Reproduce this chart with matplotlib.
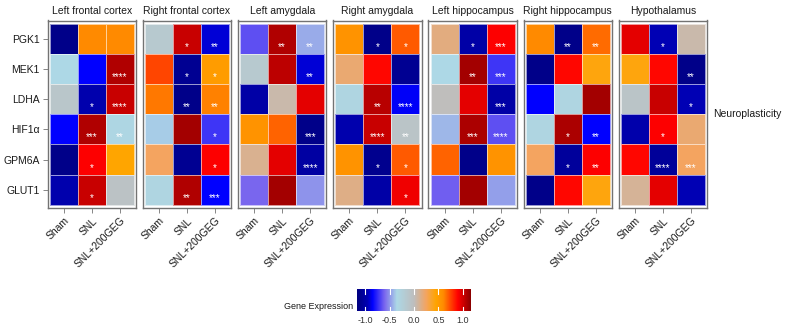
import numpy as np
import matplotlib
matplotlib.use("Agg")
import matplotlib.pyplot as plt
from matplotlib.colors import LinearSegmentedColormap, Normalize

plt.rcParams['font.family'] = ['Liberation Sans', 'DejaVu Sans']

genes = ["PGK1", "MEK1", "LDHA", "HIF1\u03b1", "GPM6A", "GLUT1"]
groups = ["Sham", "SNL", "SNL+200GEG"]
regions = ["Left frontal cortex", "Right frontal cortex", "Left amygdala",
           "Right amygdala", "Left hippocampus", "Right hippocampus", "Hypothalamus"]
side_label = "Neuroplasticity"

# values: rows = genes, columns = groups (Sham, SNL, SNL+200GEG)
left_frontal = [[-1.12, 0.60, 0.60],
                [-0.35, -0.85, 1.07],
                [-0.10, -0.97, 1.02],
                [-0.85, 1.07, -0.32],
                [-1.12, 0.90, 0.45],
                [-0.97, 1.02, -0.06]]
right_frontal = [[-0.15, 1.02, -0.90],
                 [0.75, -1.08, 0.50],
                 [0.64, -1.12, 0.62],
                 [-0.38, 1.10, -0.72],
                 [0.25, -1.08, 0.90],
                 [-0.30, 1.07, -0.85]]
left_amygdala = [[-0.66, 1.07, -0.45],
                 [-0.15, 1.05, -0.90],
                 [-1.00, 0.05, 0.96],
                 [0.56, 0.68, -1.12],
                 [0.12, 0.96, -1.02],
                 [-0.60, 1.10, -0.50]]
right_amygdala = [[0.56, -1.12, 0.70],
                  [0.20, 0.88, -1.08],
                  [-0.30, 1.06, -0.86],
                  [-0.97, 1.02, -0.08],
                  [0.56, -1.10, 0.70],
                  [0.15, -1.00, 0.93]]
left_hippocampus = [[0.17, -1.00, 0.90],
                    [-0.35, 1.10, -0.72],
                    [0.00, 0.96, -1.00],
                    [-0.42, 1.08, -0.66],
                    [0.68, -1.12, 0.56],
                    [-0.62, 1.10, -0.48]]
right_hippocampus = [[0.60, -1.12, 0.67],
                     [-1.12, 0.88, 0.42],
                     [-0.85, -0.30, 1.10],
                     [-0.30, 1.08, -0.85],
                     [0.25, -1.05, 0.90],
                     [-1.12, 0.88, 0.42]]
hypothalamus = [[0.96, -0.95, 0.05],
                [0.42, 0.88, -1.12],
                [-0.08, 1.02, -0.95],
                [-0.98, 0.90, 0.20],
                [0.88, -1.06, 0.25],
                [0.10, 0.96, -0.95]]

left_frontal_sig = [["", "", ""], ["", "", "****"], ["", "*", "****"],
                    ["", "***", "**"], ["", "*", ""], ["", "*", ""]]
right_frontal_sig = [["", "*", "**"], ["", "*", "*"], ["", "**", "**"],
                     ["", "", "*"], ["", "", "*"], ["", "**", "***"]]
left_amygdala_sig = [["", "**", "**"], ["", "", "**"], ["", "", ""],
                     ["", "", "***"], ["", "", "****"], ["", "", ""]]
right_amygdala_sig = [["", "*", "*"], ["", "", ""], ["", "**", "****"],
                      ["", "****", "**"], ["", "*", "*"], ["", "", "*"]]
left_hippocampus_sig = [["", "*", "***"], ["", "**", "***"], ["", "", "***"],
                        ["", "***", "****"], ["", "", ""], ["", "", ""]]
right_hippocampus_sig = [["", "**", "**"], ["", "", ""], ["", "", ""],
                         ["", "*", "**"], ["", "*", "**"], ["", "", ""]]
hypothalamus_sig = [["", "*", ""], ["", "", "**"], ["", "", "*"],
                    ["", "*", ""], ["", "****", "***"], ["", "", ""]]

panel_values = [left_frontal, right_frontal, left_amygdala, right_amygdala,
                left_hippocampus, right_hippocampus, hypothalamus]
panel_sigs = [left_frontal_sig, right_frontal_sig, left_amygdala_sig, right_amygdala_sig,
              left_hippocampus_sig, right_hippocampus_sig, hypothalamus_sig]

cbar_ticks = [-1.0, -0.5, 0.0, 0.5, 1.0]
cbar_title = "Gene Expression"

vmin, vmax = -1.16, 1.16
nodes = [(-1.16, "#000080"), (-0.95, "#0000B4"), (-0.85, "#0000FF"),
         (-0.60, "#7B68EE"), (-0.35, "#ADD8E6"), (0.0, "#BEBEBE"),
         (0.25, "#F4A460"), (0.45, "#FFA500"), (0.60, "#FF8C00"),
         (0.75, "#FF4500"), (0.90, "#FF0000"), (1.16, "#8B0000")]
cmap = LinearSegmentedColormap.from_list(
    "expr", [((v - vmin) / (vmax - vmin), c) for v, c in nodes])
norm = Normalize(vmin=vmin, vmax=vmax)

W, H = 786, 329
fig = plt.figure(figsize=(W / 100, H / 100), dpi=100)

frame_col = "#737373"
text_col = "#1A1A1A"
fs = 7.5

x0, pitch, pw = 47.5, 95.2, 88.5
ytop, ybot = 20.5, 208.0
for i, (vals, sig) in enumerate(zip(panel_values, panel_sigs)):
    left = x0 + i * pitch
    ax = fig.add_axes([left / W, 1 - ybot / H, pw / W, (ybot - ytop) / H])
    arr = np.array(vals)
    ax.pcolormesh(np.arange(-0.5, 3.5, 1), np.arange(-0.5, 6.5, 1), arr,
                  cmap=cmap, norm=norm, edgecolors=(1, 1, 1, 0.6), linewidth=0.5)
    ax.set_xlim(-0.58, 2.58)
    ax.set_ylim(5.6, -0.6)
    for r in range(6):
        for c in range(3):
            s = sig[r][c]
            if s:
                ax.text(c, r + 0.27, s, color="white", ha="center", va="center",
                        fontsize=7)
    ax.set_xticks(range(3))
    ax.set_xticklabels(groups, rotation=45, ha="right", rotation_mode="anchor",
                       fontsize=fs, color=text_col)
    ax.set_yticks(range(6))
    if i == 0:
        ax.set_yticklabels(genes, fontsize=fs, color=text_col)
    else:
        ax.set_yticklabels([])
    ax.tick_params(axis="both", color=frame_col, length=3.5, width=0.6, pad=2)
    if i != 0:
        ax.tick_params(axis="y", length=0)
    for sp in ax.spines.values():
        sp.set_color(frame_col)
        sp.set_linewidth(1.0)
    ax.set_title(regions[i], fontsize=fs, color=text_col, pad=4.5)

fig.text(713 / W, 1 - 114 / H, side_label, fontsize=fs, color=text_col,
         ha="left", va="center")

# colorbar
cax = fig.add_axes([357.3 / W, 1 - 311.5 / H, (470.7 - 357.3) / W, (311.5 - 289) / H])
grad = np.linspace(vmin, vmax, 400).reshape(1, -1)
cax.imshow(grad, cmap=cmap, norm=norm, aspect="auto",
           extent=[vmin, vmax, 0, 1])
for t in cbar_ticks:
    cax.plot([t, t], [0, 0.2], color="white", lw=0.8)
    cax.plot([t, t], [0.8, 1], color="white", lw=0.8)
cax.set_xlim(vmin, vmax)
cax.set_ylim(0, 1)
cax.set_xticks(cbar_ticks)
cax.set_xticklabels([f"{t:.1f}" for t in cbar_ticks], fontsize=6.5, color="#333333")
cax.tick_params(axis="x", length=0, pad=3)
cax.set_yticks([])
for sp in cax.spines.values():
    sp.set_visible(False)
fig.text(352.7 / W, 1 - 306.5 / H, cbar_title, fontsize=6.5, color=text_col,
         ha="right", va="center")

fig.savefig("out.png", dpi=100)
